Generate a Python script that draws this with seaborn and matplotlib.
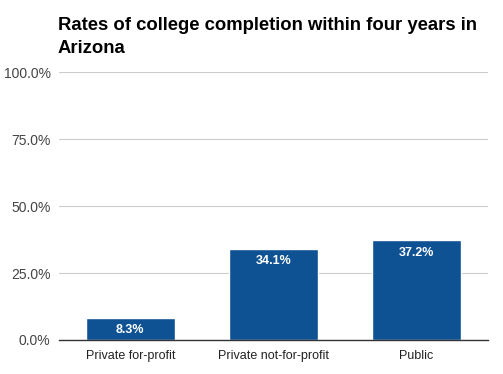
import matplotlib
matplotlib.use('Agg')
import matplotlib.pyplot as plt
import seaborn as sns
import pandas as pd

categories = ['Private for-profit', 'Private not-for-profit', 'Public']
rates = [8.3, 34.1, 37.2]
yticks = [0, 25, 50, 75, 100]
title = 'Rates of college completion within four years in\nArizona'

sns.set_theme(style='white')
plt.rcParams['font.family'] = ['Liberation Sans', 'DejaVu Sans']

df = pd.DataFrame({'type': categories, 'rate': rates})

fig = plt.figure(figsize=(5.03, 3.74), dpi=100)
ax = fig.add_axes([0.117, 0.091, 0.853, 0.716])
sns.barplot(data=df, x='type', y='rate', color='#0f5294', saturation=1,
            width=0.62, ax=ax, zorder=3)

ax.set_ylim(0, 100)
ax.set_xlim(-0.5, 2.5)
ax.set_yticks(yticks)
ax.set_yticklabels([f'{v:.1f}%' for v in yticks], fontsize=10, color='#444444')
ax.tick_params(axis='x', labelsize=9, labelcolor='#222222', length=0, pad=7)
ax.tick_params(axis='y', length=0, pad=6)
ax.set_xlabel('')
ax.set_ylabel('')
ax.grid(axis='y', color='#cccccc', linewidth=0.8, zorder=0)
for s in ['top', 'right', 'left']:
    ax.spines[s].set_visible(False)
ax.spines['bottom'].set_color('#333333')
ax.spines['bottom'].set_linewidth(1)
ax.spines['bottom'].set_zorder(4)

for i, v in enumerate(rates):
    ax.annotate(f'{v:.1f}%', (i, v), xytext=(0, -9), textcoords='offset points',
                ha='center', va='center', color='white', fontsize=9,
                fontweight='bold', zorder=5)

fig.text(0.115, 0.902, title, fontsize=13.3, fontweight='bold', color='black',
         ha='left', va='center', linespacing=1.45)

fig.savefig('out.png', dpi=100)
